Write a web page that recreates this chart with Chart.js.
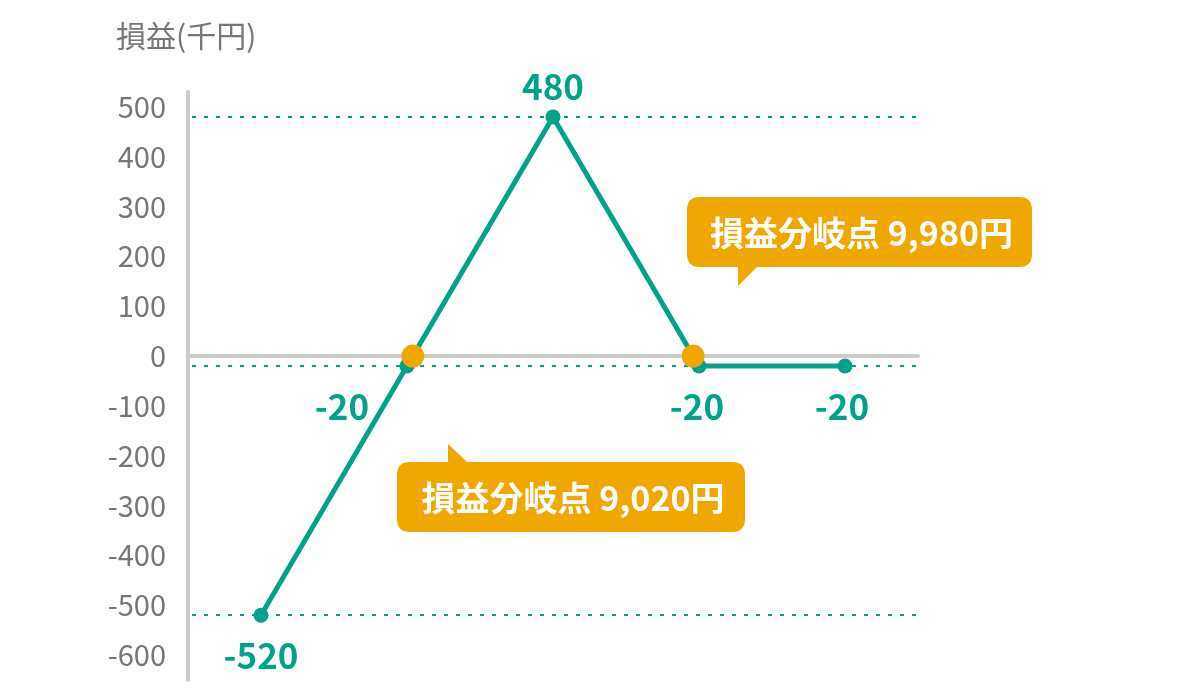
<!DOCTYPE html>
<html lang="ja">
<head>
<meta charset="utf-8">
<title>損益グラフ</title>
<script src="https://cdn.jsdelivr.net/npm/chart.js@4"></script>
<style>
  html, body { margin: 0; padding: 0; background: #fff; }
  #wrap { width: 1200px; height: 700px; }
</style>
</head>
<body>
<div id="wrap"><canvas id="plChart" width="1200" height="700"></canvas></div>
<script>
// data
const prices = [8500, 9000, 9500, 10000, 10500];
const profits = [-520, -20, 480, -20, -20];
const breakEvenPrices = [9020, 9980];
const breakEvenProfits = [0, 0];
const yTicks = [500, 400, 300, 200, 100, 0, -100, -200, -300, -400, -500, -600];
const refLevels = [480, -20, -520];
const yTitle = '損益(千円)';
const calloutTexts = ['損益分岐点 9,980円', '損益分岐点 9,020円'];

const GREEN = '#00a38a';
const ORANGE = '#f0a800';
const GRAY_AXIS = '#cccccc';
const GRAY_TEXT = '#777777';
const FONT = '"Noto Sans CJK JP", "Noto Sans", sans-serif';

function roundRect(ctx, x, y, w, h, r) {
    ctx.beginPath();
    ctx.moveTo(x + r, y);
    ctx.lineTo(x + w - r, y);
    ctx.quadraticCurveTo(x + w, y, x + w, y + r);
    ctx.lineTo(x + w, y + h - r);
    ctx.quadraticCurveTo(x + w, y + h, x + w - r, y + h);
    ctx.lineTo(x + r, y + h);
    ctx.quadraticCurveTo(x, y + h, x, y + h - r);
    ctx.lineTo(x, y + r);
    ctx.quadraticCurveTo(x, y, x + r, y);
    ctx.closePath();
}

// axes, zero line and dotted reference lines under the data
const backdropPlugin = {
    id: 'backdrop',
    beforeDatasetsDraw(chart) {
        const { ctx, chartArea: a, scales: { x, y } } = chart;
        ctx.save();
        ctx.strokeStyle = GREEN;
        ctx.lineWidth = 2;
        ctx.setLineDash([4, 8]);
        refLevels.forEach(v => {
            const py = Math.round(y.getPixelForValue(v));
            ctx.beginPath();
            ctx.moveTo(a.left + 4, py);
            ctx.lineTo(a.right, py);
            ctx.stroke();
        });
        ctx.setLineDash([]);
        ctx.strokeStyle = GRAY_AXIS;
        ctx.lineWidth = 4;
        ctx.lineCap = 'round';
        ctx.beginPath();
        ctx.moveTo(a.left, a.top);
        ctx.lineTo(a.left, a.bottom);
        ctx.stroke();
        const zy = y.getPixelForValue(0);
        ctx.beginPath();
        ctx.moveTo(a.left, zy);
        ctx.lineTo(a.right, zy);
        ctx.stroke();
        ctx.restore();
    }
};

// value labels, title and callouts on top
const labelPlugin = {
    id: 'labels',
    afterDatasetsDraw(chart) {
        const { ctx, scales: { x, y } } = chart;
        ctx.save();
        ctx.fillStyle = GRAY_TEXT;
        ctx.font = '30px ' + FONT;
        ctx.textAlign = 'left';
        ctx.textBaseline = 'middle';
        ctx.fillText(yTitle, 116, 36);

        ctx.fillStyle = GREEN;
        ctx.font = 'bold 35px ' + FONT;
        ctx.textAlign = 'center';
        const offsets = [[0, 40], [-65, 41], [0, -30], [-2, 41], [-3, 41]];
        prices.forEach((p, i) => {
            const px = x.getPixelForValue(p);
            const py = y.getPixelForValue(profits[i]);
            ctx.fillText(String(profits[i]), px + offsets[i][0], py + offsets[i][1]);
        });

        // callouts
        const boxes = [
            { x: 687, y: 197, w: 345, h: 70, tail: [[738, 266], [758, 266], [738, 286]] },
            { x: 397, y: 462, w: 348, h: 70, tail: [[448, 463], [468, 463], [448, 444]] }
        ];
        boxes.forEach((b, i) => {
            ctx.fillStyle = ORANGE;
            roundRect(ctx, b.x, b.y, b.w, b.h, 13);
            ctx.fill();
            ctx.beginPath();
            ctx.moveTo(b.tail[0][0], b.tail[0][1]);
            ctx.lineTo(b.tail[1][0], b.tail[1][1]);
            ctx.lineTo(b.tail[2][0], b.tail[2][1]);
            ctx.closePath();
            ctx.fill();
            ctx.fillStyle = '#ffffff';
            ctx.font = 'bold 34px ' + FONT;
            ctx.textAlign = 'center';
            ctx.textBaseline = 'middle';
            ctx.fillText(calloutTexts[i], b.x + b.w / 2 + 2, b.y + b.h / 2 + 1);
        });
        ctx.restore();
    }
};

new Chart(document.getElementById('plChart').getContext('2d'), {
    type: 'line',
    data: {
        datasets: [
            {
                label: '損益分岐点',
                data: breakEvenPrices.map((p, i) => ({ x: p, y: breakEvenProfits[i] })),
                showLine: false,
                pointRadius: 11.5,
                pointBackgroundColor: ORANGE,
                pointBorderWidth: 0,
                order: 0
            },
            {
                label: '損益',
                data: prices.map((p, i) => ({ x: p, y: profits[i] })),
                borderColor: GREEN,
                borderWidth: 5,
                pointRadius: 7.5,
                pointBackgroundColor: GREEN,
                pointBorderWidth: 0,
                tension: 0,
                order: 1
            }
        ]
    },
    options: {
        responsive: false,
        animation: false,
        devicePixelRatio: 1,
        layout: { padding: { top: 92, right: 282, bottom: 20, left: 0 } },
        plugins: { legend: { display: false }, tooltip: { enabled: false } },
        scales: {
            x: {
                type: 'linear',
                min: 8250,
                max: 10750,
                display: false
            },
            y: {
                type: 'linear',
                min: -650,
                max: 530,
                afterBuildTicks: s => { s.ticks = yTicks.map(v => ({ value: v })); },
                afterFit: s => {
                    s.width = 188;
                    s.paddingTop = 0;
                    s.paddingBottom = 0;
                },
                grid: { display: false, drawTicks: false },
                border: { display: false },
                ticks: {
                    color: GRAY_TEXT,
                    padding: 22,
                    font: { family: FONT, size: 29 }
                }
            }
        }
    },
    plugins: [backdropPlugin, labelPlugin]
});
</script>
</body>
</html>
